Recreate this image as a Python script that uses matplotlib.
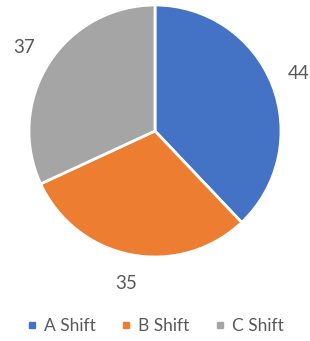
import matplotlib.pyplot as plt  # Plotting
from matplotlib.lines import Line2D  # Legend markers

# Chart data
categories = ['A Shift', 'B Shift', 'C Shift']
values = [44, 35, 37]
colors = ['#4472C4', '#ED7D31', '#A5A5A5']
text_color = '#595959'

plt.rcParams['font.family'] = ['Lato', 'DejaVu Sans']

W, H = 310, 341
fig = plt.figure(figsize=(W / 100, H / 100), dpi=100)

# Pie box: centre (155, 131) px, radius 126 px
cx, cy, r = 155, 131, 126
ax = fig.add_axes([(cx - r) / W, (H - cy - r) / H, 2 * r / W, 2 * r / H])

total = sum(values)
wedges, texts, autotexts = ax.pie(
    values, colors=colors, startangle=90, counterclock=False,
    wedgeprops=dict(edgecolor='white', linewidth=2),
    autopct=lambda p: f'{p * total / 100:.0f}', pctdistance=1.23,
    textprops=dict(color=text_color, fontsize=13.5))
for t in autotexts:
    t.set_clip_on(False)
ax.set_xlim(-1, 1)
ax.set_ylim(-1, 1)
ax.set_aspect('equal')
ax.axis('off')

# Legend with small square markers
handles = [Line2D([0], [0], marker='s', linestyle='none', markersize=4.5,
                  markerfacecolor=c, markeredgecolor=c) for c in colors]
fig.legend(handles, categories, loc='center', bbox_to_anchor=(0.5, 1 - 326 / H),
           ncol=3, frameon=False, handlelength=0.6, handletextpad=0.4,
           columnspacing=1.45, fontsize=12.5, labelcolor=text_color)

fig.savefig('out.png', dpi=100)
